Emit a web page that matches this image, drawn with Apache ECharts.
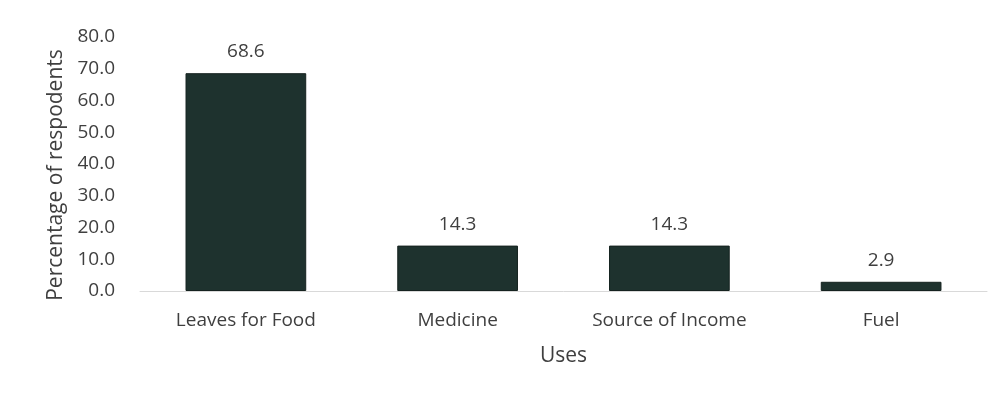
<!DOCTYPE html>
<html>
<head>
<meta charset="utf-8">
<script src="https://cdn.jsdelivr.net/npm/echarts@6/dist/echarts.min.js"></script>
<style>
  html, body { margin: 0; padding: 0; background: #ffffff; }
  #chart { width: 1000px; height: 394px; }
</style>
</head>
<body>
<div id="chart"></div>
<script>
// Uses of the plant and the share of respondents naming each
const categories = ['Leaves for Food', 'Medicine', 'Source of Income', 'Fuel'];
const percentages = [68.6, 14.3, 14.3, 2.9];
const yTicks = { min: 0, max: 80, interval: 10 };

const textColor = '#3f3f3f';
const fontFamily = '"Open Sans", "Liberation Sans", sans-serif';

const chart = echarts.init(document.getElementById('chart'));
chart.setOption({
  animation: false,
  backgroundColor: '#ffffff',
  grid: { left: 140, right: 13, top: 37, bottom: 103, containLabel: false },
  xAxis: {
    type: 'category',
    data: categories,
    name: 'Uses',
    nameLocation: 'middle',
    nameGap: 55,
    nameTextStyle: { color: textColor, fontSize: 21, fontFamily: fontFamily },
    axisLine: { lineStyle: { color: '#d9d9d9', width: 1 } },
    axisTick: { show: false },
    axisLabel: { color: textColor, fontSize: 19, fontFamily: fontFamily, margin: 20 }
  },
  yAxis: {
    type: 'value',
    min: yTicks.min,
    max: yTicks.max,
    interval: yTicks.interval,
    name: 'Percentage of respodents',
    nameLocation: 'middle',
    nameGap: 71,
    nameTextStyle: {
      color: textColor, fontSize: 21, fontFamily: fontFamily,
      padding: [0, 22, 0, 0]
    },
    axisLine: { show: false },
    axisTick: { show: false },
    splitLine: { show: false },
    axisLabel: {
      color: textColor, fontSize: 19, fontFamily: fontFamily, margin: 25,
      formatter: v => v.toFixed(1)
    }
  },
  series: [{
    type: 'bar',
    data: percentages,
    barCategoryGap: '43%',
    itemStyle: { color: '#1e322e', borderColor: '#15221f', borderWidth: 1 },
    label: {
      show: true,
      position: 'top',
      distance: 12,
      color: textColor,
      fontSize: 19,
      fontFamily: fontFamily,
      formatter: p => p.value.toFixed(1)
    }
  }]
});
</script>
</body>
</html>
